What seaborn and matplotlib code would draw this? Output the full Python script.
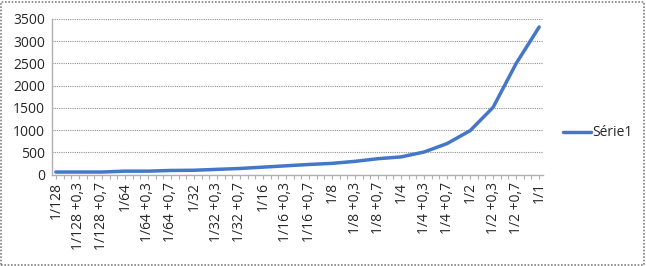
import matplotlib
matplotlib.use("Agg")
import matplotlib.pyplot as plt
import seaborn as sns
import pandas as pd
import numpy as np
from matplotlib.patches import Rectangle
from matplotlib.ticker import MultipleLocator
from matplotlib.lines import Line2D

categories = ["1/128", "1/128 +0,3", "1/128 +0,7", "1/64", "1/64 +0,3", "1/64 +0,7",
              "1/32", "1/32 +0,3", "1/32 +0,7", "1/16", "1/16 +0,3", "1/16 +0,7",
              "1/8", "1/8 +0,3", "1/8 +0,7", "1/4", "1/4 +0,3", "1/4 +0,7",
              "1/2", "1/2 +0,3", "1/2 +0,7", "1/1"]
values = [60, 60, 60, 80, 80, 95, 100, 120, 140, 170, 200, 230,
          255, 300, 360, 400, 510, 700, 990, 1515, 2500, 3320]
series_name = "Série1"
y_ticks = [0, 500, 1000, 1500, 2000, 2500, 3000, 3500]

sns.set_style("white")
plt.rcParams['font.family'] = ['Open Sans', 'DejaVu Sans']

df = pd.DataFrame({"pos": np.arange(len(categories)), "val": values, "s": series_name})

line_color = "#4577c8"
fig = plt.figure(figsize=(6.46, 2.66), dpi=100)
ax = fig.add_axes([52/646, 1-174.7/266, (543-52)/646, (174.7-19)/266])
sns.lineplot(data=df, x="pos", y="val", hue="s", palette=[line_color], lw=2.5, ax=ax, legend=False)

ax.set_xlim(-1/6, len(categories)-1+1/6)
ax.set_ylim(0, 3500)
ax.set_yticks(y_ticks)
ax.set_yticklabels([str(v) for v in y_ticks], fontsize=10)
ax.set_xticks(df["pos"])
ax.set_xticklabels(categories, rotation=90, fontsize=10)
ax.xaxis.set_minor_locator(MultipleLocator(1/3))
ax.tick_params(axis='x', which='both', direction='out', length=3, color='#b0b0b0', width=0.8, bottom=True, pad=2)
ax.tick_params(axis='y', which='both', length=0, pad=5)
ax.set_xlabel("")
ax.set_ylabel("")
ax.grid(axis='y', color='#909090', ls=(0, (1, 1)), lw=0.8)
ax.set_axisbelow(True)
for s in ['top', 'right']:
    ax.spines[s].set_visible(False)
for s in ['left', 'bottom']:
    ax.spines[s].set_color('#b0b0b0')
    ax.spines[s].set_linewidth(1)

handle = Line2D([], [], color=line_color, lw=2.5)
fig.legend([handle], [series_name], loc='center left', bbox_to_anchor=(563/646, 1-133/266),
           frameon=False, fontsize=10, handlelength=2.0, handletextpad=0.1, borderaxespad=0, borderpad=0)

fig.patches.append(Rectangle((0.002, 0.004), 0.995, 0.99, transform=fig.transFigure,
                             fill=False, edgecolor='#808080', lw=1.2, ls=(0, (1, 1))))

fig.savefig("out.png", dpi=100)
